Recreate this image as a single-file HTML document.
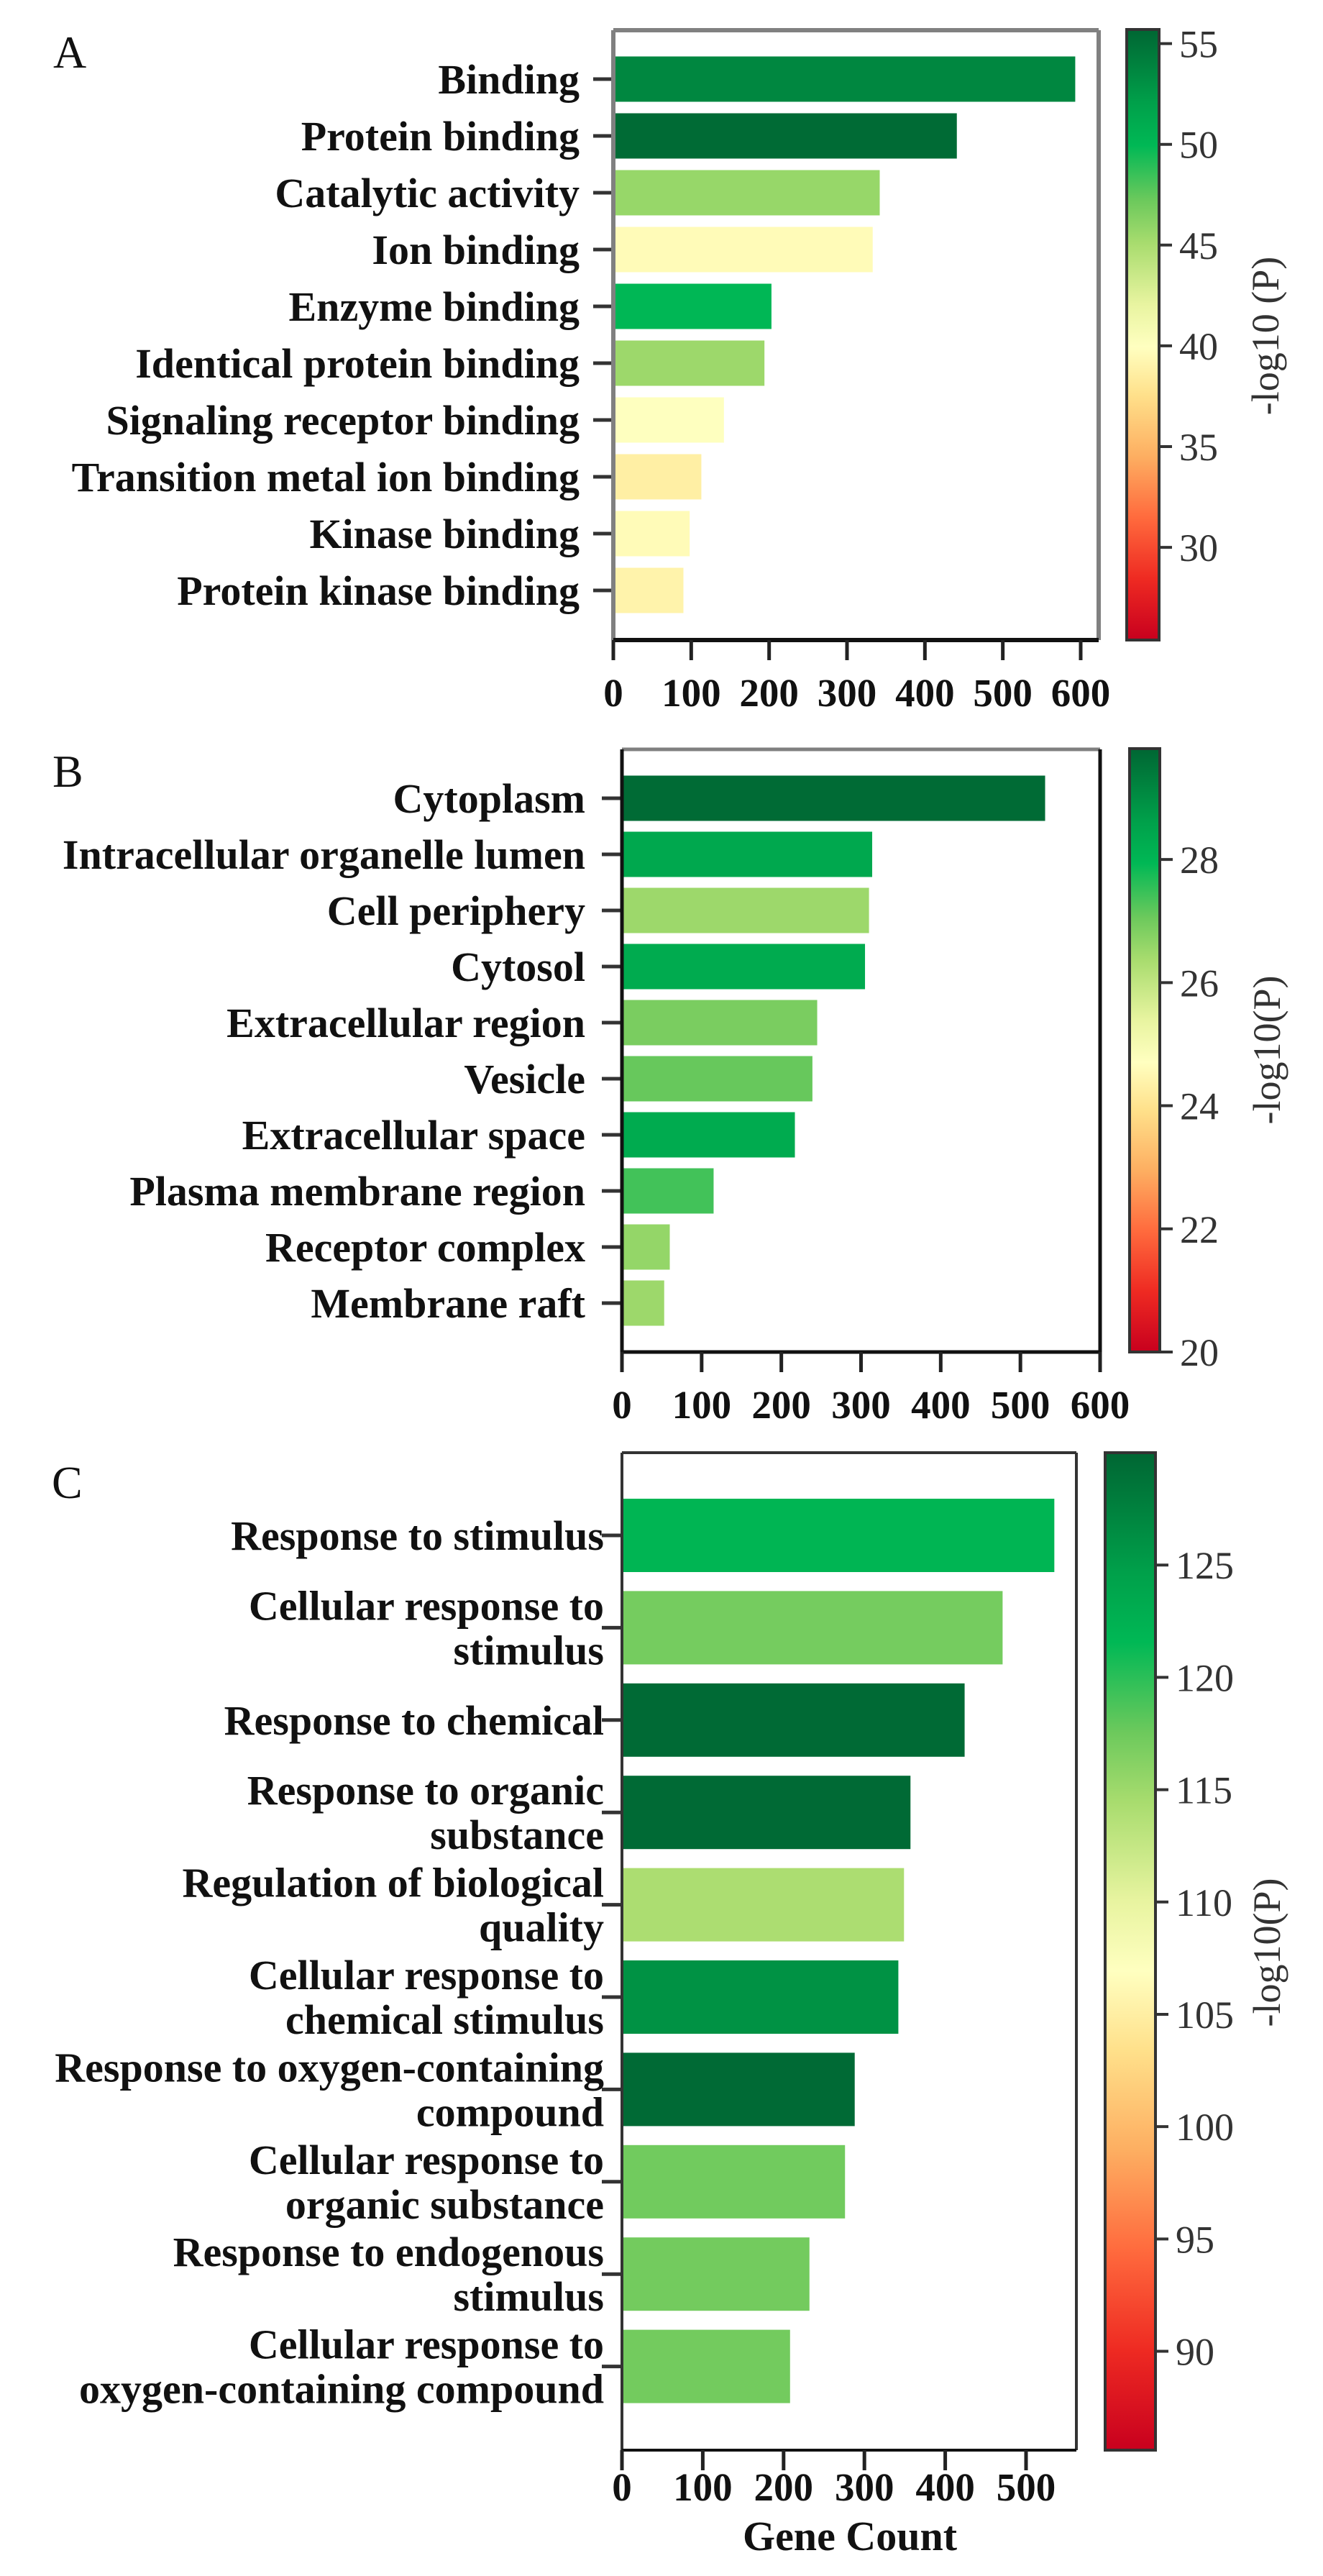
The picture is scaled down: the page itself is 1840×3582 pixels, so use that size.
<!DOCTYPE html>
<html>
<head>
<meta charset="utf-8">
<style>
html,body{margin:0;padding:0;background:#fff;}
svg{display:block;}
text{font-family:"Liberation Serif","DejaVu Serif",serif;}
</style>
</head>
<body>
<svg id="fig" width="1840" height="3582" viewBox="0 0 1840 3582" xmlns="http://www.w3.org/2000/svg">
<defs>
<linearGradient id="cmap" x1="0" y1="1" x2="0" y2="0">
<stop offset="0" stop-color="#c8001e"/>
<stop offset="0.1" stop-color="#ee2a22"/>
<stop offset="0.2" stop-color="#ff6a3d"/>
<stop offset="0.3" stop-color="#fdae61"/>
<stop offset="0.4" stop-color="#ffe08a"/>
<stop offset="0.48" stop-color="#ffffc0"/>
<stop offset="0.55" stop-color="#e8f4a0"/>
<stop offset="0.65" stop-color="#a8dc6e"/>
<stop offset="0.72" stop-color="#6cc95c"/>
<stop offset="0.81" stop-color="#00b855"/>
<stop offset="0.88" stop-color="#00a04a"/>
<stop offset="1" stop-color="#006633"/>
</linearGradient>
</defs>
</svg>
<script>
// Panel A data: molecular function
const catsA = ["Binding","Protein binding","Catalytic activity","Ion binding","Enzyme binding","Identical protein binding","Signaling receptor binding","Transition metal ion binding","Kinase binding","Protein kinase binding"];
const countsA = [593,441,342,333,203,194,142,113,98,90];
const logpA = [53.6,55.4,45.7,39.6,50.0,45.5,40.0,38.7,39.6,39.0];
const xticksA = [0,100,200,300,400,500,600];
const cbticksA = [30,35,40,45,50,55];

// Panel B data: cellular component
const catsB = ["Cytoplasm","Intracellular organelle lumen","Cell periphery","Cytosol","Extracellular region","Vesicle","Extracellular space","Plasma membrane region","Receptor complex","Membrane raft"];
const countsB = [531,314,310,305,245,239,217,115,60,53];
const logpB = [29.7,28.4,26.5,28.3,26.9,27.1,28.3,27.4,26.6,26.5];
const xticksB = [0,100,200,300,400,500,600];
const cbticksB = [20,22,24,26,28];

// Panel C data: biological process
const catsC = ["Response to stimulus","Cellular response to\nstimulus","Response to chemical","Response to organic\nsubstance","Regulation of biological\nquality","Cellular response to\nchemical stimulus","Response to oxygen-containing\ncompound","Cellular response to\norganic substance","Response to endogenous\nstimulus","Cellular response to\noxygen-containing compound"];
const countsC = [535,471,424,357,349,342,288,276,232,208];
const logpC = [122,117.1,129.6,129.6,114.2,126,129.6,117.3,117.2,117.2];
const xticksC = [0,100,200,300,400,500];
const cbticksC = [90,95,100,105,110,115,120,125];

const stops = [[0,[200,0,30]],[0.1,[238,42,34]],[0.2,[255,106,61]],[0.3,[253,174,97]],[0.4,[255,224,138]],[0.48,[255,255,192]],[0.55,[232,244,160]],[0.65,[168,220,110]],[0.72,[108,201,92]],[0.81,[0,184,85]],[0.88,[0,160,74]],[1,[0,102,51]]];
function cmap(t){
  t=Math.max(0,Math.min(1,t));
  for(let i=1;i<stops.length;i++){
    if(t<=stops[i][0]){
      const a=stops[i-1],b=stops[i];const f=(t-a[0])/(b[0]-a[0]);
      const c=a[1].map((v,k)=>Math.round(v+(b[1][k]-v)*f));
      return `rgb(${c[0]},${c[1]},${c[2]})`;
    }
  }
  return 'rgb(0,102,51)';
}
const NS="http://www.w3.org/2000/svg";
const svg=document.getElementById('fig');
function mk(tag,attrs,parent){
  const e=document.createElementNS(NS,tag);
  for(const k in attrs)e.setAttribute(k,attrs[k]);
  (parent||svg).appendChild(e);return e;
}

function panel(P){
  const g=mk('g',{});
  
  
  const xs=v=>P.left+(v/P.xmax)*(P.x600-P.left);
  const n=P.cats.length;
  const yc=i=>P.y0+i*P.step;
  const cv=v=>(v-P.cmin)/(P.cmax-P.cmin);
  const cy=v=>P.bottom-(v-P.cmin)/(P.cmax-P.cmin)*(P.bottom-P.cbtop);
  // panel letter
  const L=mk('text',{x:P.letterX,y:P.letterY,'font-size':64,fill:'#111'},g);
  L.textContent=P.id;
  
  
  // plot background
  mk('rect',{x:P.left,y:P.top,width:P.right-P.left,height:P.bottom-P.top,fill:'#fff'},g);
  // bars
  for(let i=0;i<n;i++){
    const r=mk('rect',{x:P.left,y:yc(i)-P.bh/2,width:xs(P.counts[i])-P.left,height:P.bh,fill:cmap(cv(P.logp[i]))},g);
    
    
    // y tick
    mk('line',{x1:P.left-28,x2:P.left,y1:yc(i),y2:yc(i),stroke:'#333','stroke-width':5},g);
    // label
    const lines=P.cats[i].split('\n');
    const t=mk('text',{x:P.labelRight,'text-anchor':'end','font-size':58,'font-weight':'bold',fill:'#111'},g);
    
    
    const lh=62;const firstY=yc(i)+20-(lines.length-1)*lh/2;
    lines.forEach((ln,k)=>{const ts=mk('tspan',{x:P.labelRight,y:firstY+k*lh},t);ts.textContent=ln;});
  }
  // frame
  mk('line',{x1:P.left,y1:P.top,x2:P.right,y2:P.top,stroke:P.topColor,'stroke-width':P.fw},g);
  mk('line',{x1:P.left,y1:P.top,x2:P.left,y2:P.bottom,stroke:P.sideColor,'stroke-width':P.fw},g);
  mk('line',{x1:P.right,y1:P.top,x2:P.right,y2:P.bottom,stroke:P.sideColor,'stroke-width':P.fw},g);
  const xa=mk('line',{x1:P.left,y1:P.bottom,x2:P.right,y2:P.bottom,stroke:'#111','stroke-width':P.fw},g);
  
  
  // x ticks
  P.xticks.forEach(v=>{
    mk('line',{x1:xs(v),x2:xs(v),y1:P.bottom,y2:P.bottom+28,stroke:'#222','stroke-width':5},g);
    const t=mk('text',{x:xs(v),y:P.xtlY,'text-anchor':'middle','font-size':55,'font-weight':'bold',fill:'#111'},g);
    t.textContent=v;
    
    
  });
  // colorbar
  const cb=mk('rect',{x:P.cbx,y:P.cbtop,width:P.cbw,height:P.bottom-P.cbtop,fill:'url(#cmap)',stroke:'#333','stroke-width':4},g);
  
  
  P.cbticks.forEach(v=>{
    mk('line',{x1:P.cbx+P.cbw,x2:P.cbx+P.cbw+18,y1:cy(v),y2:cy(v),stroke:'#333','stroke-width':4},g);
    const t=mk('text',{x:P.cbx+P.cbw+28,y:cy(v)+19,'font-size':54,fill:'#333'},g);
    t.textContent=v;
    
    
  });
  const cl=mk('text',{x:0,y:0,'text-anchor':'middle','font-size':54,fill:'#333',transform:`translate(${P.cblX},${P.cblY}) rotate(-90)`},g);
  cl.textContent=P.cbLabel;
  
  
}

panel({id:'A',cats:catsA,counts:countsA,logp:logpA,xticks:xticksA,cbticks:cbticksA,
  left:853,right:1528,top:42,bottom:890,x600:1503,xmax:600,y0:110,step:79,bh:63,
  cmin:25.4,cmax:55.7,cbx:1567,cbw:45,cbtop:41,labelRight:806,xtlY:982,
  letterX:74,letterY:94,cblX:1778,cblY:467,cbLabel:'-log10 (P)',topColor:'#808080',sideColor:'#808080',fw:6});
panel({id:'B',cats:catsB,counts:countsB,logp:logpB,xticks:xticksB,cbticks:cbticksB,
  left:865,right:1530,top:1042,bottom:1880,x600:1530,xmax:600,y0:1110,step:78,bh:63,
  cmin:20,cmax:29.8,cbx:1571,cbw:42,cbtop:1041,labelRight:814,xtlY:1972,
  letterX:73,letterY:1094,cblX:1780,cblY:1460,cbLabel:'-log10(P)',topColor:'#808080',sideColor:'#111',fw:5});
panel({id:'C',cats:catsC,counts:countsC,logp:logpC,xticks:xticksC,cbticks:cbticksC,
  left:865,right:1497,top:2020,bottom:3407,x600:865+112.4*6,xmax:600,y0:2135,step:128.4,bh:102,
  cmin:85.6,cmax:130,cbx:1537,cbw:70,cbtop:2020,labelRight:840,xtlY:3477,
  letterX:72,letterY:2083,cblX:1780,cblY:2715,cbLabel:'-log10(P)',topColor:'#333',sideColor:'#333',fw:4});

const gc=mk('text',{x:1182,y:3546,'text-anchor':'middle','font-size':58,'font-weight':'bold',fill:'#111'});
gc.textContent='Gene Count';


</script>
</body>
</html>
